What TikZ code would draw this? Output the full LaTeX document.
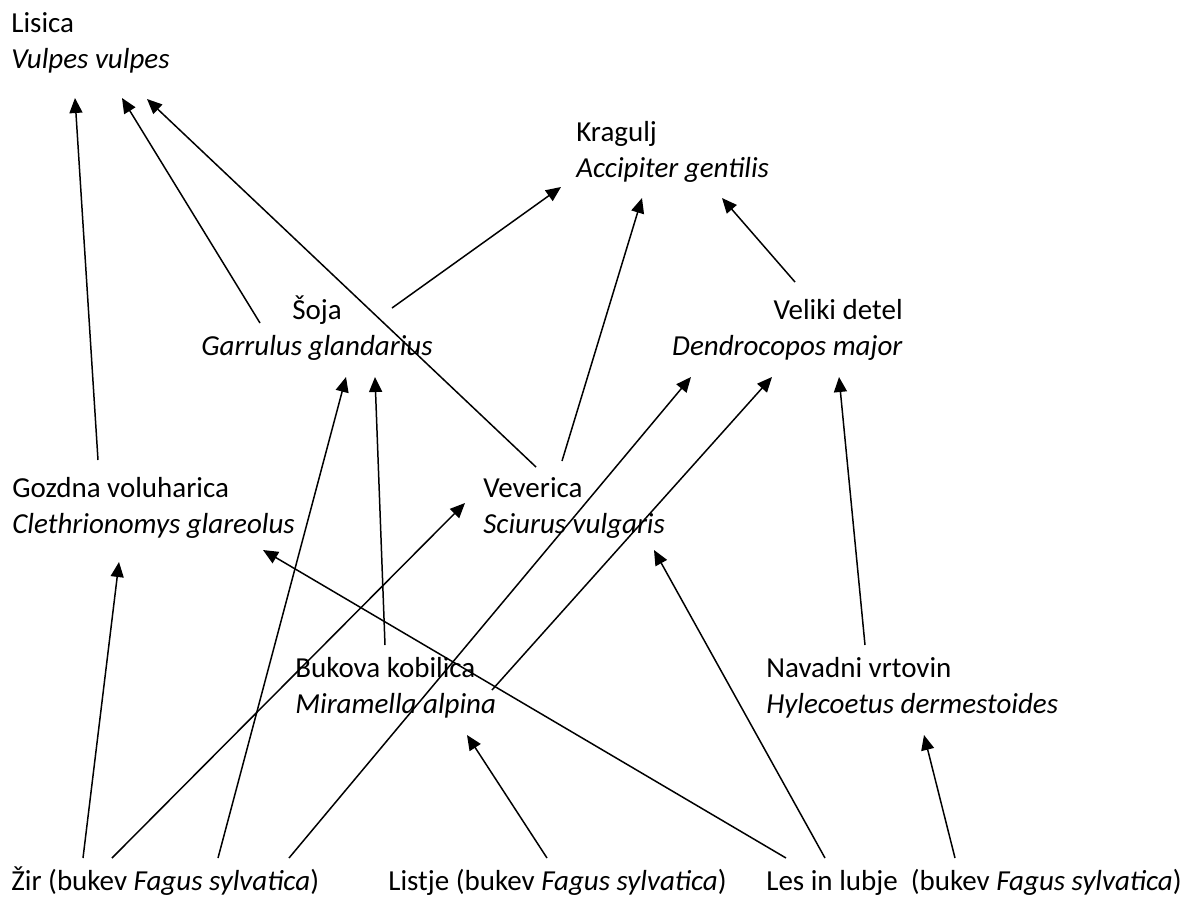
\documentclass[tikz,border=0pt]{standalone}
\usepackage{fontspec}
\setmainfont{Carlito}
\usepackage{tikz}
\usetikzlibrary{arrows.meta}

\begin{document}
\begin{tikzpicture}[x=0.02cm, y=-0.02cm,
    species/.style={inner sep=0, align=left, anchor=base west, font=\fontsize{16.5}{20}\selectfont},
    link/.style={line width=0.85pt, -{Triangle[length=0.3cm, width=0.26cm]}}]
  \useasboundingbox (0,0) rectangle (1197,897);

  % animals
  \node[species] (lisica) at (11,68) {Lisica\\\textit{Vulpes vulpes}};
  \node[species] (kragulj) at (576,177) {Kragulj\\\textit{Accipiter gentilis}};
  \node[species, align=center, anchor=base] (soja) at (317,355) {Šoja\\\textit{Garrulus glandarius}};
  \node[species, align=right, anchor=base east] (detel) at (903,355) {Veliki detel\\\textit{Dendrocopos major}};
  \node[species] (gozdna) at (12,533) {Gozdna voluharica\\\textit{Clethrionomys glareolus}};
  \node[species] (veverica) at (483,533) {Veverica\\\textit{Sciurus vulgaris}};
  \node[species] (bukova) at (295,713) {Bukova kobilica\\\textit{Miramella alpina}};
  \node[species] (navadni) at (766,713) {Navadni vrtovin\\\textit{Hylecoetus dermestoides}};
  % food
  \node[species] (zir) at (11,890) {Žir (bukev \textit{Fagus sylvatica})};
  \node[species] (listje) at (388,890) {Listje (bukev \textit{Fagus sylvatica})};
  \node[species] (les) at (766,890) {Les in lubje\ \ (bukev \textit{Fagus sylvatica})};

  % arrow ends
  \coordinate (gozdna-up) at (98,460);
  \coordinate (soja-up1) at (260,323);
  \coordinate (soja-up2) at (392,308);
  \coordinate (veverica-up1) at (536,467);
  \coordinate (veverica-up2) at (562,461);
  \coordinate (detel-up) at (795,282);
  \coordinate (bukova-up1) at (385,645);
  \coordinate (bukova-up2) at (492,690);
  \coordinate (navadni-up) at (865,645);
  \coordinate (zir-up1) at (83,858);
  \coordinate (zir-up2) at (112,858);
  \coordinate (zir-up3) at (218,858);
  \coordinate (zir-up4) at (289,858);
  \coordinate (listje-up) at (547,858);
  \coordinate (les-up1) at (786,858);
  \coordinate (les-up2) at (825,858);
  \coordinate (les-up3) at (955,858);

  \coordinate (lisica-in1) at (75,98);
  \coordinate (lisica-in2) at (122,98);
  \coordinate (lisica-in3) at (147,99);
  \coordinate (kragulj-in1) at (561,187);
  \coordinate (kragulj-in2) at (642,198);
  \coordinate (kragulj-in3) at (722,198);
  \coordinate (soja-in1) at (346,377);
  \coordinate (soja-in2) at (375,377);
  \coordinate (detel-in1) at (691,377);
  \coordinate (detel-in2) at (772,377);
  \coordinate (detel-in3) at (839,377);
  \coordinate (gozdna-in1) at (119,562);
  \coordinate (gozdna-in2) at (263,550);
  \coordinate (veverica-in1) at (465,503);
  \coordinate (veverica-in2) at (654,550);
  \coordinate (bukova-in) at (467,735);
  \coordinate (navadni-in) at (924,735);

  % who eats whom
  \draw[link] (gozdna-up) -- (lisica-in1);
  \draw[link] (soja-up1) -- (lisica-in2);
  \draw[link] (veverica-up1) -- (lisica-in3);
  \draw[link] (soja-up2) -- (kragulj-in1);
  \draw[link] (veverica-up2) -- (kragulj-in2);
  \draw[link] (detel-up) -- (kragulj-in3);
  \draw[link] (zir-up3) -- (soja-in1);
  \draw[link] (bukova-up1) -- (soja-in2);
  \draw[link] (zir-up4) -- (detel-in1);
  \draw[link] (bukova-up2) -- (detel-in2);
  \draw[link] (navadni-up) -- (detel-in3);
  \draw[link] (zir-up1) -- (gozdna-in1);
  \draw[link] (les-up1) -- (gozdna-in2);
  \draw[link] (zir-up2) -- (veverica-in1);
  \draw[link] (les-up2) -- (veverica-in2);
  \draw[link] (listje-up) -- (bukova-in);
  \draw[link] (les-up3) -- (navadni-in);
\end{tikzpicture}
\end{document}
